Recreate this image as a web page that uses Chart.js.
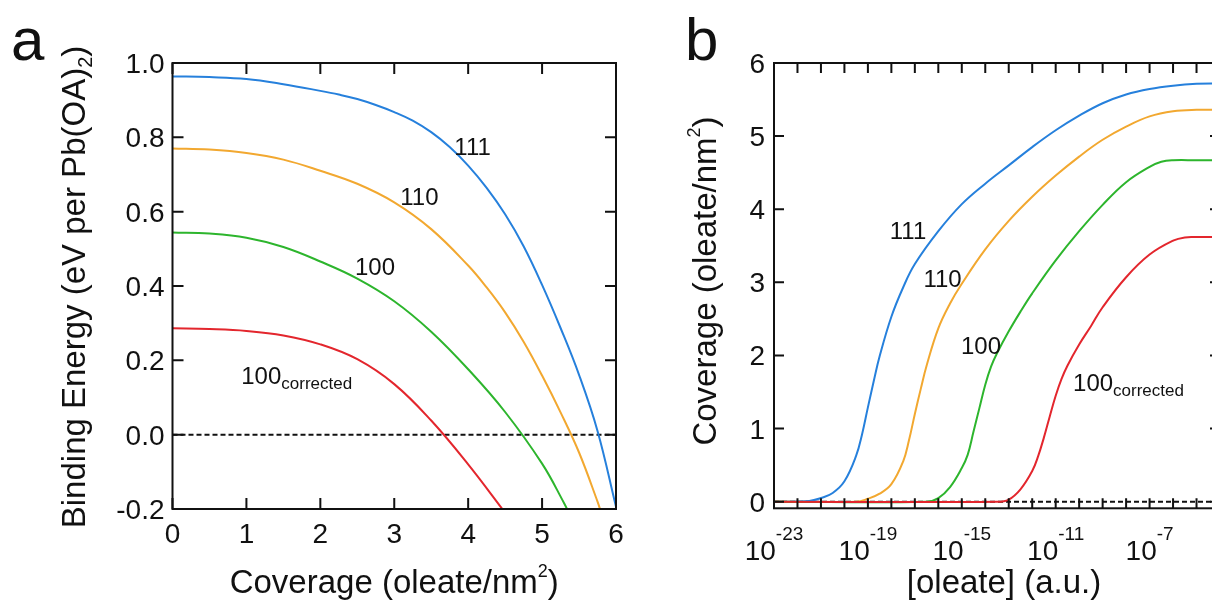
<!DOCTYPE html>
<html>
<head>
<meta charset="utf-8">
<script src="https://cdn.jsdelivr.net/npm/chart.js@4.4.1/dist/chart.umd.min.js"></script>
<style>
  html, body { margin: 0; padding: 0; background: #fff; overflow: hidden; width: 1212px; height: 600px; }
  #wrapA { position: absolute; left: 0; top: 0; width: 640px; height: 600px; }
  #wrapB { position: absolute; left: 640px; top: 0; width: 600px; height: 600px; }
</style>
</head>
<body>
<div id="wrapA"><canvas id="chartA" width="640" height="600"></canvas></div>
<div id="wrapB"><canvas id="chartB" width="600" height="600"></canvas></div>
<script>
// Panel a: binding energy vs coverage
const cov111 = [0, 0.5, 1, 1.5, 2, 2.25, 2.5, 2.75, 3, 3.25, 3.5, 3.75, 4, 4.25, 4.5, 4.75, 5, 5.25, 5.5, 5.75, 6];
const be111  = [0.964, 0.962, 0.957, 0.943, 0.925, 0.915, 0.903, 0.887, 0.868, 0.845, 0.814, 0.774, 0.724, 0.664, 0.593, 0.507, 0.403, 0.287, 0.161, 0.010, -0.194];
const cov110 = [0, 0.5, 1, 1.5, 2, 2.5, 3, 3.5, 4, 4.25, 4.5, 4.75, 5, 5.25, 5.5, 5.75, 5.8];
const be110  = [0.770, 0.767, 0.758, 0.740, 0.710, 0.675, 0.625, 0.553, 0.455, 0.396, 0.329, 0.250, 0.159, 0.060, -0.048, -0.180, -0.210];
const cov100 = [0, 0.5, 1, 1.5, 2, 2.5, 3, 3.5, 4, 4.5, 5, 5.3, 5.35];
const be100  = [0.544, 0.541, 0.530, 0.505, 0.466, 0.420, 0.359, 0.277, 0.176, 0.061, -0.078, -0.185, -0.205];
const covCorr = [0, 0.5, 1, 1.5, 2, 2.5, 3, 3.5, 4, 4.5];
const beCorr  = [0.286, 0.284, 0.279, 0.267, 0.243, 0.203, 0.136, 0.038, -0.080, -0.210];

const coverageTicks = [0, 1, 2, 3, 4, 5, 6];
const energyTicks = [-0.2, 0, 0.2, 0.4, 0.6, 0.8, 1.0];
const energyLabels = ['-0.2', '0.0', '0.2', '0.4', '0.6', '0.8', '1.0'];

// Panel b: coverage vs log10[oleate]
const exp111 = [-23, -21.5, -21, -20.5, -20, -19.5, -19.25, -19, -18.75, -18.5, -18, -17.5, -17, -16, -15, -14, -13, -12, -11, -10, -9, -8, -7, -6, -5, -4];
const th111  = [0, 0.01, 0.05, 0.12, 0.28, 0.63, 0.92, 1.29, 1.65, 1.99, 2.53, 2.93, 3.25, 3.70, 4.07, 4.35, 4.60, 4.85, 5.08, 5.28, 5.45, 5.57, 5.645, 5.69, 5.715, 5.72];
const exp110 = [-23, -19.5, -19, -18.5, -18, -17.5, -17.25, -17, -16.75, -16.5, -16, -15.5, -15, -14, -13, -12, -11, -10, -9, -8, -7, -6, -5, -4];
const th110  = [0, 0, 0.04, 0.11, 0.24, 0.55, 0.84, 1.20, 1.54, 1.86, 2.37, 2.71, 2.98, 3.45, 3.84, 4.17, 4.46, 4.72, 4.95, 5.13, 5.27, 5.34, 5.36, 5.36];
const exp100 = [-23, -16.5, -16, -15.5, -15, -14.75, -14.5, -14.25, -14, -13.75, -13.5, -13, -12.5, -12, -11, -10, -9, -8, -7, -6.5, -6, -5, -4];
const th100  = [0, 0, 0.05, 0.20, 0.46, 0.64, 0.96, 1.28, 1.60, 1.85, 2.03, 2.33, 2.60, 2.85, 3.30, 3.70, 4.06, 4.37, 4.58, 4.65, 4.67, 4.67, 4.67];
const expCorr = [-23, -13.5, -13, -12.5, -12, -11.75, -11.5, -11.25, -11, -10.75, -10.5, -10, -9.5, -9, -8, -7, -6, -5.5, -5, -4];
const thCorr  = [0, 0, 0.03, 0.17, 0.42, 0.62, 0.88, 1.17, 1.45, 1.68, 1.86, 2.15, 2.40, 2.66, 3.07, 3.38, 3.57, 3.615, 3.62, 3.62];

const thetaTicks = [0, 1, 2, 3, 4, 5, 6];
const oleateLabelExps = [-23, -19, -15, -11, -7, -3];

const FONT = "'Liberation Sans', Arial, Helvetica, sans-serif";
const INK = '#111111';
const cBlue = '#2680dc', cOrange = '#f2a830', cGreen = '#2db52d', cRed = '#e3262d';

function curve(xs, ys, color, order) {
  return {
    data: xs.map((v, i) => ({ x: v, y: ys[i] })),
    borderColor: color, borderWidth: 2, pointRadius: 0, fill: false,
    tension: 0.4, order: order
  };
}
function zeroLine(xmin, xmax) {
  return { data: [{ x: xmin, y: 0 }, { x: xmax, y: 0 }], borderColor: INK, borderWidth: 2,
           borderDash: [5, 3], pointRadius: 0, fill: false, order: 10 };
}
// texto com sub/sobrescrito
function rich(ctx, parts, x, y, align) {
  let w = 0;
  for (const p of parts) { ctx.font = p.size + 'px ' + FONT; w += ctx.measureText(p.text).width; }
  let cx = align === 'center' ? x - w / 2 : align === 'right' ? x - w : x;
  ctx.textAlign = 'left';
  for (const p of parts) {
    ctx.font = p.size + 'px ' + FONT;
    ctx.fillText(p.text, cx, y + (p.dy || 0));
    cx += ctx.measureText(p.text).width;
  }
}
// moldura com ticks para dentro
function frameAndTicks(chart, len) {
  const { ctx, chartArea: a, scales: { x, y } } = chart;
  ctx.save();
  ctx.strokeStyle = INK; ctx.lineWidth = 2;
  ctx.beginPath();
  for (const t of x.ticks) {
    const px = x.getPixelForValue(t.value);
    ctx.moveTo(px, a.bottom); ctx.lineTo(px, a.bottom - len);
    ctx.moveTo(px, a.top); ctx.lineTo(px, a.top + len);
  }
  for (const t of y.ticks) {
    const py = y.getPixelForValue(t.value);
    ctx.moveTo(a.left, py); ctx.lineTo(a.left + len, py);
    ctx.moveTo(a.right, py); ctx.lineTo(a.right - len, py);
  }
  ctx.stroke();
  ctx.strokeRect(a.left, a.top, a.right - a.left, a.bottom - a.top);
  ctx.restore();
}
function curveLabel(ctx, chart, lab) {
  const px = chart.scales.x.getPixelForValue(lab.x);
  const py = chart.scales.y.getPixelForValue(lab.y) + 8.5;
  if (lab.sub) {
    rich(ctx, [{ text: lab.text, size: 24 }, { text: lab.sub, size: 17, dy: 5 }], px, py, 'left');
  } else {
    rich(ctx, [{ text: lab.text, size: 24 }], px, py, 'center');
  }
}

const labelsA = [
  { text: '111', x: 4.06, y: 0.775 },
  { text: '110', x: 3.34, y: 0.640 },
  { text: '100', x: 2.74, y: 0.453 },
  { text: '100', sub: 'corrected', x: 0.93, y: 0.158 }
];
const labelsB = [
  { text: '111', x: Math.pow(10, -17.29), y: 3.71 },
  { text: '110', x: Math.pow(10, -15.82), y: 3.05 },
  { text: '100', x: Math.pow(10, -14.18), y: 2.13 },
  { text: '100', sub: 'corrected', x: Math.pow(10, -10.26), y: 1.63 }
];

const decorA = {
  id: 'decorA',
  afterDraw(chart) {
    frameAndTicks(chart, 11);
    const { ctx, chartArea: a, scales: { x, y } } = chart;
    ctx.save();
    ctx.fillStyle = INK; ctx.textBaseline = 'alphabetic';
    ctx.font = '28px ' + FONT; ctx.textAlign = 'center';
    coverageTicks.forEach(v => ctx.fillText(String(v), x.getPixelForValue(v), a.bottom + 34));
    ctx.textAlign = 'right';
    energyTicks.forEach((v, i) => ctx.fillText(energyLabels[i], a.left - 8, y.getPixelForValue(v) + 10));
    rich(ctx, [{ text: 'Coverage (oleate/nm', size: 33 }, { text: '2', size: 18, dy: -16 }, { text: ')', size: 33 }],
         (a.left + a.right) / 2, 593, 'center');
    ctx.save();
    ctx.translate(85, (a.top + a.bottom) / 2 + 1);
    ctx.rotate(-Math.PI / 2);
    rich(ctx, [{ text: 'Binding Energy (eV per Pb(OA)', size: 33 }, { text: '2', size: 20, dy: 7 }, { text: ')', size: 33 }],
         0, 0, 'center');
    ctx.restore();
    rich(ctx, [{ text: 'a', size: 60 }], 11, 60, 'left');
    labelsA.forEach(l => curveLabel(ctx, chart, l));
    ctx.restore();
  }
};

const decorB = {
  id: 'decorB',
  afterDraw(chart) {
    frameAndTicks(chart, 10);
    const { ctx, chartArea: a, scales: { x, y } } = chart;
    ctx.save();
    ctx.fillStyle = INK; ctx.textBaseline = 'alphabetic';
    ctx.font = '28px ' + FONT; ctx.textAlign = 'right';
    thetaTicks.forEach(v => ctx.fillText(String(v), a.left - 9, y.getPixelForValue(v) + 10));
    oleateLabelExps.forEach(e => {
      rich(ctx, [{ text: '10', size: 28 }, { text: String(e), size: 19, dy: -20 }],
           x.getPixelForValue(Math.pow(10, e)), 560, 'center');
    });
    rich(ctx, [{ text: '[oleate] (a.u.)', size: 33 }], a.left + 230, 593, 'center');
    ctx.save();
    ctx.translate(76, 281);
    ctx.rotate(-Math.PI / 2);
    rich(ctx, [{ text: 'Coverage (oleate/nm', size: 33 }, { text: '2', size: 18, dy: -16 }, { text: ')', size: 33 }],
         0, 0, 'center');
    ctx.restore();
    rich(ctx, [{ text: 'b', size: 60 }], 45, 60, 'left');
    labelsB.forEach(l => curveLabel(ctx, chart, l));
    ctx.restore();
  }
};

const hidden = { grid: { display: false }, border: { display: false }, ticks: { display: false } };

new Chart(document.getElementById('chartA'), {
  type: 'line',
  data: {
    datasets: [
      curve(cov111, be111, cBlue, 4),
      curve(cov110, be110, cOrange, 3),
      curve(cov100, be100, cGreen, 2),
      curve(covCorr, beCorr, cRed, 1),
      zeroLine(0, 6)
    ]
  },
  options: {
    responsive: false,
    animation: false,
    layout: { padding: { top: 63, right: 24, left: 0, bottom: 0 } },
    plugins: { legend: { display: false }, tooltip: { enabled: false } },
    scales: {
      x: Object.assign({ type: 'linear', min: 0, max: 6,
        afterBuildTicks: s => { s.ticks = coverageTicks.map(v => ({ value: v })); },
        afterFit: s => { s.height = 91; } }, hidden),
      y: Object.assign({ type: 'linear', min: -0.2, max: 1.0,
        afterBuildTicks: s => { s.ticks = energyTicks.map(v => ({ value: v })); },
        afterFit: s => { s.width = 172.5; } }, hidden)
    }
  },
  plugins: [decorA]
});

const decades = [];
for (let e = -23; e <= -4; e++) decades.push(e);

new Chart(document.getElementById('chartB'), {
  type: 'line',
  data: {
    datasets: [
      curve(exp111.map(e => Math.pow(10, e)), th111, cBlue, 4),
      curve(exp110.map(e => Math.pow(10, e)), th110, cOrange, 3),
      curve(exp100.map(e => Math.pow(10, e)), th100, cGreen, 2),
      curve(expCorr.map(e => Math.pow(10, e)), thCorr, cRed, 1),
      zeroLine(1e-23, 1e-4)
    ]
  },
  options: {
    responsive: false,
    animation: false,
    layout: { padding: { top: 63, right: 20, left: 0, bottom: 0 } },
    plugins: { legend: { display: false }, tooltip: { enabled: false } },
    scales: {
      x: Object.assign({ type: 'logarithmic', min: 1e-23, max: 1e-4,
        afterBuildTicks: s => { s.ticks = decades.map(e => ({ value: Math.pow(10, e) })); },
        afterFit: s => { s.height = 91.7; } }, hidden),
      y: Object.assign({ type: 'linear', min: -0.09, max: 6,
        afterBuildTicks: s => { s.ticks = thetaTicks.map(v => ({ value: v })); },
        afterFit: s => { s.width = 134; } }, hidden)
    }
  },
  plugins: [decorB]
});
</script>
</body>
</html>
